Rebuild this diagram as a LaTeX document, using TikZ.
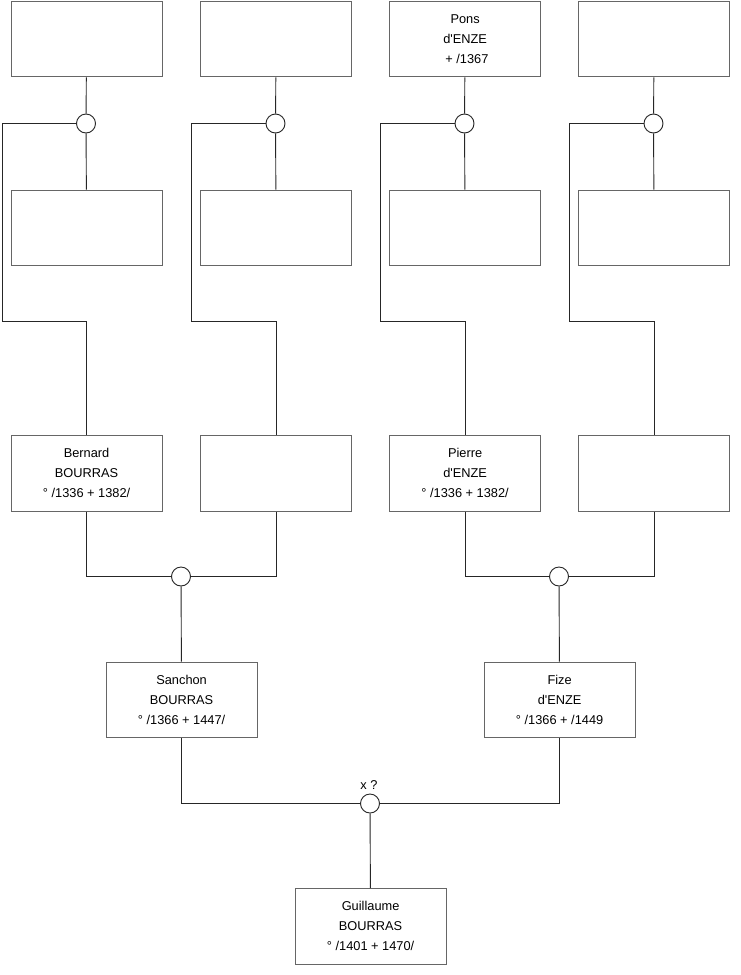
\documentclass[tikz,border=0pt]{standalone}
\usepackage{fontspec}
\setmainfont{Liberation Sans}
\begin{document}
\begin{tikzpicture}[x=1pt,y=-1pt,
 person/.style={draw=black!60, line width=1.2pt, minimum width=151pt, minimum height=75.5pt, inner sep=0pt, align=center, font=\fontsize{12.8}{20}\selectfont, anchor=north west},
 union/.style={circle, draw=black!85, line width=0.9pt, minimum size=19pt, inner sep=0pt, fill=white},
 link/.style={draw=black!85, line width=0.9pt},
 lbl/.style={font=\fontsize{12.8}{14}\selectfont, inner sep=0pt}]
\useasboundingbox (0,0) rectangle (740,975);
% top row
\node[person] (t1) at (10.5,0.6) {};
\node[person] (t2) at (200,0.6) {};
\node[person] (t3) at (389,0.6) {Pons\\d\textquotesingle ENZE\\\ + /1367};
\node[person] (t4) at (578,0.6) {};
% unions row 1
\node[union] (c1) at (86,123.5) {};
\node[union] (c2) at (275.5,123.5) {};
\node[union] (c3) at (464.5,123.5) {};
\node[union] (c4) at (653.5,123.5) {};
% second row
\node[person] (m1) at (10.5,189.5) {};
\node[person] (m2) at (200,189.5) {};
\node[person] (m3) at (389,189.5) {};
\node[person] (m4) at (578,189.5) {};
% third row
\node[person] (p1) at (10.5,435) {Bernard\\BOURRAS\\° /1336 + 1382/};
\node[person] (p2) at (200,435) {};
\node[person] (p3) at (389,435) {Pierre\\d\textquotesingle ENZE\\° /1336 + 1382/};
\node[person] (p4) at (578,435) {};
% bend points
\coordinate (k1) at (2,321.5);
\coordinate (k2) at (191,321.5);
\coordinate (k3) at (380,321.5);
\coordinate (k4) at (569,321.5);
% unions row 3
\node[union] (d1) at (181,576.5) {};
\node[union] (d2) at (559,576.5) {};
% fourth row
\node[person] (g1) at (105.5,661.5) {Sanchon\\BOURRAS\\° /1366 + 1447/};
\node[person] (g2) at (483.5,661.5) {Fize\\d\textquotesingle ENZE\\° /1366 + /1449};
% bottom union
\node[union] (e) at (370,803.5) {};
\node[lbl] (xl) at (369,785.5) {x ?};
\node[person] (b) at (294.5,888) {Guillaume\\BOURRAS\\° /1401 + 1470/};
% connectors
\foreach \i in {1,2,3,4}{
  \draw[link] (t\i) -- (c\i);
  \draw[link] (c\i) -- (m\i);
  \draw[link] (c\i.west) -| (k\i) -| (p\i.north);
}
\draw[link] (p1.south) |- (d1.west);
\draw[link] (p2.south) |- (d1.east);
\draw[link] (p3.south) |- (d2.west);
\draw[link] (p4.south) |- (d2.east);
\draw[link] (d1) -- (g1);
\draw[link] (d2) -- (g2);
\draw[link] (g1.south) |- (e.west);
\draw[link] (g2.south) |- (e.east);
\draw[link] (e) -- (b);
\end{tikzpicture}
\end{document}
